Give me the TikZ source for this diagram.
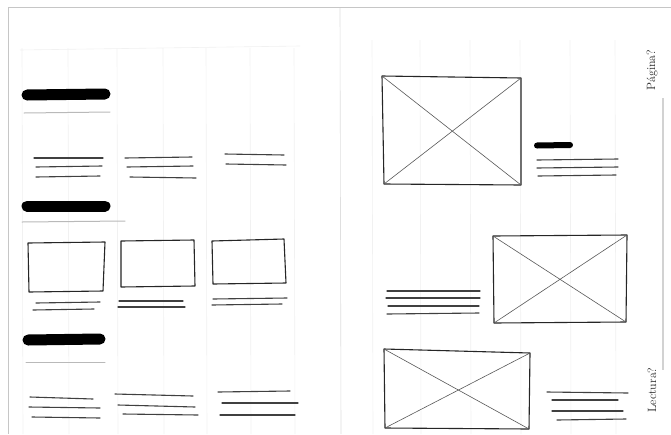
\documentclass[tikz,border=0pt]{standalone}
\begin{document}
\begin{tikzpicture}[x=1pt,y=-1pt,
  barstroke/.style={line width=11pt,line cap=round,black},
  smallbar/.style={line width=6pt,line cap=round,black},
  txtline/.style={line width=1.1pt,black!75,line cap=round},
  rulestroke/.style={line width=1pt,gray!55,line cap=round},
  boxstroke/.style={line width=1.1pt,black!85,line join=round},
  crossstroke/.style={line width=0.6pt,black!65},
  guide/.style={line width=0.6pt,gray!11},
  edgeline/.style={line width=1pt,gray!45},
  note/.style={font=\fontsize{12}{14}\selectfont,text=black!85,inner sep=0pt}]
\useasboundingbox (0,0) rectangle (671,434);
\fill[white] (0,0) rectangle (671,434);
% paper edges and fold
\draw[edgeline] (8,7) -- (671,7);
\draw[edgeline] (8,7) -- (8,434);
\draw[guide,gray!25] (340,8) -- (341,434);
% faint column guides
\foreach \gx in {22,68,117,163,206,250,294} {\draw[guide] (\gx,48) -- (\gx+1,434);}
\foreach \gx in {372,420,470,520,570,615} {\draw[guide] (\gx,40) -- (\gx+1,434);}
\draw[guide] (20,50) -- (300,46);
\draw[line width=2pt,gray!35] (663,98) -- (663,370);

% ---- left page, section 1
\draw[barstroke] (27,95) -- (105,94);
\draw[rulestroke] (24,113) -- (110,112);
\draw[txtline] (34,158) -- (103,158);
\draw[txtline] (36,167) -- (102,166);
\draw[txtline] (36,177) -- (100,176);
\draw[txtline] (125,158) -- (192,157);
\draw[txtline] (127,167) -- (193,166);
\draw[txtline] (130,177) -- (196,178);
\draw[txtline] (225,154) -- (284,155);
\draw[txtline] (226,164) -- (286,165);

% ---- left page, section 2
\draw[barstroke] (27,206) -- (105,206);
\draw[rulestroke] (22,222) -- (125,221);
\draw[boxstroke] (28,243) -- (105,242) -- (103,291) -- (29,292) -- cycle;
\draw[boxstroke] (121,241) -- (194,240) -- (195,286) -- (121,287) -- cycle;
\draw[boxstroke] (212,241) -- (284,239) -- (286,283) -- (213,284) -- cycle;
\draw[txtline] (36,303) -- (100,302);
\draw[txtline] (33,310) -- (94,309);
\draw[txtline] (119,301) -- (183,301);
\draw[txtline] (118,307) -- (185,307);
\draw[txtline] (213,299) -- (287,298);
\draw[txtline] (212,305) -- (282,304);

% ---- left page, section 3
\draw[barstroke] (28,340) -- (100,339);
\draw[rulestroke] (26,362) -- (105,362);
\draw[txtline] (30,397) -- (93,399);
\draw[txtline] (29,407) -- (100,408);
\draw[txtline] (32,417) -- (100,418);
\draw[txtline] (115,394) -- (193,396);
\draw[txtline] (118,405) -- (195,407);
\draw[txtline] (123,414) -- (198,415);
\draw[txtline] (218,392) -- (290,391);
\draw[txtline] (222,403) -- (298,403);
\draw[txtline] (220,415) -- (295,415);

% ---- right page
\draw[boxstroke] (382,76) -- (521,78) -- (521,185) -- (384,184) -- cycle;
\draw[crossstroke] (382,76) -- (521,185);
\draw[crossstroke] (521,78) -- (384,184);
\draw[smallbar] (537,145.5) -- (570,145);
\draw[txtline] (537,160) -- (618,159);
\draw[txtline] (537,168) -- (618,167);
\draw[txtline] (538,176) -- (616,175);

\draw[boxstroke] (493,236) -- (627,235) -- (626,322) -- (494,323) -- cycle;
\draw[crossstroke] (493,236) -- (626,322);
\draw[crossstroke] (627,235) -- (494,323);
\draw[txtline] (387,291) -- (480,291);
\draw[txtline] (386,298) -- (480,298);
\draw[txtline] (388,306) -- (479,306);
\draw[txtline] (387,314) -- (479,313);

\draw[boxstroke] (384,349) -- (530,353) -- (529,429) -- (385,428) -- cycle;
\draw[crossstroke] (384,349) -- (529,429);
\draw[crossstroke] (530,353) -- (385,428);
\draw[txtline] (547,392) -- (628,393);
\draw[txtline] (552,400) -- (618,400);
\draw[txtline] (552,411) -- (623,411);
\draw[txtline] (557,420) -- (626,419);

% margin notes
\node[note,rotate=90] (pg) at (652,70) {Página?};
\node[note,rotate=90] (lec) at (652,390) {Lectura?};
\end{tikzpicture}
\end{document}
